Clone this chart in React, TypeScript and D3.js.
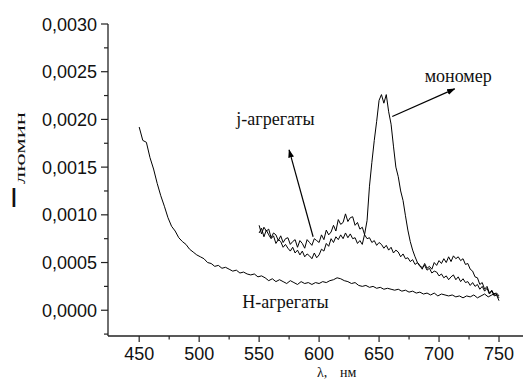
import React from "react";
import * as d3 from "d3";

// intensity values are stored in units of 1e-4
const yScaleUnit = 1e-4;

// H-aggregates, 450..750 nm, step 3
const hStart = 450;
const hStep = 3;
const hValues = [
  19.2, 17.8, 17.6, 16.0, 14.8, 13.3, 12.0, 10.9, 9.7, 8.8, 8.3, 7.6, 7.2, 6.9, 6.4, 6.1, 5.8, 5.6, 5.4, 5.0,
  4.9, 4.6, 4.7, 4.4, 4.5, 4.3, 4.1, 4.2, 3.9, 4.0, 3.8, 3.7, 3.8, 3.5, 3.6, 3.4, 3.1, 3.3, 3.0, 3.2,
  3.0, 2.8, 3.1, 2.9, 2.7, 3.0, 2.8, 2.9, 2.7, 2.9, 2.8, 3.0, 2.9, 3.1, 3.2, 3.4, 3.3, 3.1, 3.0, 2.8,
  2.9, 2.6, 2.5, 2.6, 2.4, 2.5, 2.3, 2.4, 2.2, 2.3, 2.2, 2.1, 2.2, 2.0, 2.1, 1.9, 2.0, 1.8, 1.9, 1.7,
  1.8, 1.6, 1.8, 1.5, 1.7, 1.6, 1.5, 1.6, 1.4, 1.5, 1.3, 1.5, 1.4, 1.6, 1.3, 1.5, 1.7, 1.4, 1.6, 1.8,
  1.3,
];

// j-aggregates and monomer, 550..750 nm, step 2
const jStart = 550;
const jStep = 2;
const jValues = [
  8.9, 8.0, 8.7, 8.3, 8.5, 7.6, 8.1, 7.9, 7.3, 7.8, 7.1, 7.5, 7.6, 6.9, 7.2, 7.4, 6.6, 7.3, 7.0, 6.5,
  7.4, 7.1, 6.8, 7.5, 7.3, 7.1, 7.9, 7.4, 8.4, 7.9, 8.2, 8.9, 8.3, 9.5, 9.0, 9.2, 10.1, 9.3, 9.7, 9.8,
  8.9, 9.2, 8.5, 8.7, 7.9, 7.5, 7.6, 7.1, 7.3, 6.8, 7.1, 6.9, 6.5, 6.8, 6.3, 6.6, 6.0, 6.3, 6.1, 5.6,
  5.9, 5.4, 5.5, 5.1, 5.3, 4.8, 5.0, 4.6, 4.5, 4.7, 4.2, 4.4, 3.9, 4.1, 4.0, 3.6, 3.8, 3.4, 3.6, 3.2,
  3.5, 3.7, 3.2, 3.5, 3.0, 3.3, 2.9, 3.0, 2.6, 2.9, 2.5, 2.7, 2.2, 2.5, 2.0, 2.3, 1.7, 2.0, 1.5, 1.6,
  1.0,
];
const monoValues = [
  8.1, 8.6, 7.7, 8.4, 7.9, 7.5, 7.8, 7.0, 7.4, 7.2, 6.6, 6.9, 6.5, 6.2, 6.6, 6.0, 6.3, 5.8, 6.2, 5.6,
  5.9, 5.7, 5.4, 6.0, 5.5, 5.8, 6.4, 6.2, 7.0, 6.7, 7.5, 7.1, 7.7, 7.4, 7.9, 7.5, 8.1, 7.6, 8.0, 7.5,
  7.6, 7.0, 7.3, 6.9, 8.0, 9.4, 13.0, 15.5, 17.8, 19.8, 22.0, 22.6, 21.7, 22.6, 20.8, 19.5, 17.2, 15.0, 14.0, 12.5,
  11.5, 9.9, 8.4, 7.2, 6.3, 5.6, 5.0, 4.7, 4.3, 4.9, 4.4, 4.6, 4.3, 5.0, 4.7, 5.2, 4.9, 5.4, 5.0, 5.6,
  5.1, 5.7, 5.4, 5.6, 5.2, 5.4, 4.8, 4.9, 4.3, 4.1, 3.5, 3.4, 2.7, 2.9, 2.2, 2.5, 1.8, 2.1, 1.6, 1.8,
  1.5,
];

const xTicks = [450, 500, 550, 600, 650, 700, 750];
const xMinorTicks = [475, 525, 575, 625, 675, 725];
const yTicks = [0, 0.0005, 0.001, 0.0015, 0.002, 0.0025, 0.003];
const yMinorTicks = [-0.00025, 0.00025, 0.00075, 0.00125, 0.00175, 0.00225, 0.00275];

// annotations: [x, y] in data units
const monoLabel = { text: "мономер", x: 688, y: 0.00239 };
const monoArrow = { from: [661, 0.00203], to: [713, 0.00232] };
const jLabel = { text: "j-агрегаты", x: 531, y: 0.00194 };
const jArrow = { from: [595, 0.00077], to: [575, 0.00168] };
const hLabel = { text: "H-агрегаты", x: 536, y: 0.00002 };

const W = 526;
const H = 380;

const toSeries = (start: number, step: number, vals: number[]) =>
  vals.map((v, i) => ({ x: start + i * step, y: v * yScaleUnit }));

const fmt = (v: number) => v.toFixed(4).replace(".", ",");

const App = () => {
  const x = d3.scaleLinear().domain([424, 770]).range([108, 523]);
  const y = d3.scaleLinear().domain([-0.00027, 0.003]).range([336, 24]);

  const line = d3
    .line<{ x: number; y: number }>()
    .x((d) => x(d.x))
    .y((d) => y(d.y));

  const series = [
    toSeries(hStart, hStep, hValues),
    toSeries(jStart, jStep, jValues),
    toSeries(jStart, jStep, monoValues),
  ];

  const sans = "'Liberation Sans', Arial, sans-serif";
  const serif = "'Liberation Serif', 'Times New Roman', serif";
  const axisColor = "#222";

  return (
    <svg
      width={W}
      height={H}
      viewBox={`0 0 ${W} ${H}`}
      style={{ position: "absolute", left: 0, top: 0, background: "#fff" }}
    >
      <defs>
        <marker id="arr" viewBox="0 0 10 10" refX="9" refY="5" markerWidth="7" markerHeight="7" orient="auto">
          <path d="M0,1.5 L10,5 L0,8.5 Z" fill="#000" />
        </marker>
      </defs>

      {/* curves */}
      {series.map((s, i) => (
        <path key={i} d={line(s) || ""} fill="none" stroke="#000" strokeWidth={1} />
      ))}

      {/* y axis */}
      <line x1={108} x2={108} y1={y(0.003)} y2={y(-0.00027)} stroke={axisColor} strokeWidth={1.3} />
      {yTicks.map((t) => (
        <g key={t}>
          <line x1={101} x2={108} y1={y(t)} y2={y(t)} stroke={axisColor} strokeWidth={1.2} />
          <text x={97} y={y(t) + 6.5} textAnchor="end" fontFamily={sans} fontSize={18} fill="#111">
            {fmt(t)}
          </text>
        </g>
      ))}
      {yMinorTicks.map((t) => (
        <line key={t} x1={104} x2={108} y1={y(t)} y2={y(t)} stroke={axisColor} strokeWidth={1.2} />
      ))}

      {/* x axis */}
      <line x1={108} x2={523} y1={336} y2={336} stroke={axisColor} strokeWidth={1.3} />
      {xTicks.map((t) => (
        <g key={t}>
          <line x1={x(t)} x2={x(t)} y1={336} y2={342} stroke={axisColor} strokeWidth={1.2} />
          <text x={x(t)} y={360} textAnchor="middle" fontFamily={sans} fontSize={18} fill="#111">
            {t}
          </text>
        </g>
      ))}
      {xMinorTicks.map((t) => (
        <line key={t} x1={x(t)} x2={x(t)} y1={336} y2={339.5} stroke={axisColor} strokeWidth={1.2} />
      ))}

      {/* axis titles */}
      <text x={317} y={377} fontFamily={serif} fontSize={14} fill="#111">
        λ,
      </text>
      <text x={340} y={377} fontFamily={serif} fontSize={14} fill="#111">
        нм
      </text>
      <text x={10} y={207} fontFamily={sans} fontSize={28} fill="#111">
        I
      </text>
      <g transform="translate(25,184) rotate(-90)">
        <text x={0} y={0} fontFamily={serif} fontSize={15} fill="#111" textLength={72} lengthAdjust="spacingAndGlyphs">
          люмин
        </text>
      </g>

      {/* annotations */}
      <line
        x1={x(monoArrow.from[0])}
        y1={y(monoArrow.from[1])}
        x2={x(monoArrow.to[0])}
        y2={y(monoArrow.to[1])}
        stroke="#000"
        strokeWidth={1.2}
        markerEnd="url(#arr)"
      />
      <line
        x1={x(jArrow.from[0])}
        y1={y(jArrow.from[1])}
        x2={x(jArrow.to[0])}
        y2={y(jArrow.to[1])}
        stroke="#000"
        strokeWidth={1.2}
        markerEnd="url(#arr)"
      />
      {[monoLabel, jLabel, hLabel].map((l) => (
        <text key={l.text} x={x(l.x)} y={y(l.y)} fontFamily={serif} fontSize={18} fill="#111">
          {l.text}
        </text>
      ))}
    </svg>
  );
};

export default App;
